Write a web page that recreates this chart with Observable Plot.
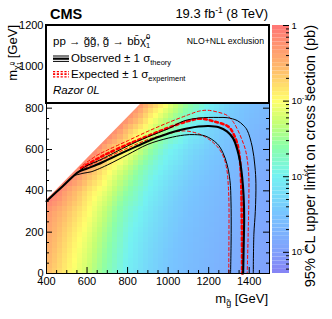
<!DOCTYPE html>
<html><head><meta charset="utf-8">
<script src="https://cdn.jsdelivr.net/npm/d3@7"></script>
<script src="https://cdn.jsdelivr.net/npm/@observablehq/plot@0.6"></script>
<style>
body{margin:0;background:#fff;}
#wrap{position:relative;width:332px;height:319px;overflow:hidden;font-family:"Liberation Sans",Arial,sans-serif;}
#wrap svg{position:absolute;top:0;}
</style></head><body><div id="wrap"></div>
<script>
// ---- heat map: log10(95% CL upper limit on cross section [pb]) ----
const mgGrid = [400, 500, 600, 700, 800, 900, 1000, 1100, 1200, 1300, 1400, 1500];
const mchiGrid = [0, 100, 200, 300, 400, 500, 600, 700, 800, 900];
const log10Xsec = [
  [-0.60, -0.92, -1.25, -1.65, -2.05, -2.30, -2.48, -2.60, -2.70, -2.80, -2.90, -2.98],
  [-0.50, -0.85, -1.18, -1.58, -2.00, -2.26, -2.45, -2.58, -2.68, -2.78, -2.88, -2.96],
  [-0.40, -0.75, -1.08, -1.48, -1.93, -2.20, -2.40, -2.55, -2.65, -2.75, -2.85, -2.93],
  [-0.28, -0.62, -0.95, -1.35, -1.82, -2.12, -2.35, -2.50, -2.62, -2.72, -2.82, -2.90],
  [null, -0.40, -0.80, -1.15, -1.60, -2.00, -2.26, -2.45, -2.58, -2.68, -2.78, -2.88],
  [null, null, -0.48, -0.92, -1.35, -1.80, -2.12, -2.35, -2.50, -2.62, -2.74, -2.84],
  [null, null, null, -0.55, -0.98, -1.48, -1.95, -2.22, -2.42, -2.56, -2.68, -2.78],
  [null, null, null, null, -0.60, -1.08, -1.55, -2.00, -2.30, -2.48, -2.62, -2.72],
  [null, null, null, null, null, -0.66, -1.15, -1.62, -2.05, -2.38, -2.55, -2.66],
  [null, null, null, null, null, null, -0.90, -1.35, -1.80, -2.20, -2.45, -2.60]
];
// samples along the kinematic edge
const diagMg = [400, 450, 500, 550, 600, 650, 700, 750, 800, 850, 900, 950, 1000];
const diagMchi = [355, 405, 455, 505, 555, 605, 655, 705, 755, 805, 855, 905, 955];
const diagLog10Xsec = [-0.08, -0.10, -0.12, -0.14, -0.16, -0.18, -0.20, -0.22, -0.25, -0.28, -0.32, -0.36, -0.40];
// kinematic boundary (white region above)
const kinMg = [400, 1300];
const kinMchi = [355, 1255];

// ---- exclusion contours ----
const obsMg   = [400, 480, 560, 600, 650, 700, 750, 800, 850, 900, 950, 1000, 1050, 1100, 1150, 1200, 1250, 1290, 1320, 1341, 1355, 1365, 1372, 1375, 1373, 1370];
const obsMchi = [350, 422, 493, 508, 527, 550, 573, 596, 618, 640, 660, 678, 692, 703, 711, 714, 708, 688, 655, 600, 540, 467, 380, 274, 150, 0];
const obsUpMg   = [560, 600, 650, 700, 800, 900, 1000, 1077, 1150, 1200, 1250, 1291, 1341, 1370, 1390, 1415, 1428, 1433, 1430, 1423, 1420];
const obsUpMchi = [495, 522, 543, 567, 617, 661, 700, 738, 752, 755, 755, 754, 740, 718, 693, 612, 520, 435, 300, 190, 0];
const obsDnMg   = [540, 580, 620, 650, 700, 800, 900, 1000, 1080, 1130, 1184, 1242, 1270, 1290, 1305, 1310, 1311, 1308];
const obsDnMchi = [475, 485, 492, 503, 525, 575, 625, 655, 670, 672, 665, 628, 585, 530, 450, 350, 193, 0];
const expMg   = [570, 650, 700, 800, 900, 1000, 1100, 1160, 1230, 1299, 1325, 1341, 1352, 1357, 1361, 1362, 1364, 1365];
const expMchi = [510, 555, 580, 625, 665, 705, 738, 749, 735, 709, 670, 628, 570, 515, 420, 354, 200, 0];
const expUpMg   = [580, 650, 700, 800, 900, 1000, 1100, 1150, 1193, 1240, 1291, 1320, 1344, 1365, 1382, 1393, 1398, 1398, 1395, 1390];
const expUpMchi = [525, 572, 597, 642, 688, 730, 768, 785, 790, 782, 765, 735, 693, 645, 596, 530, 467, 354, 200, 0];
const expDnMg   = [565, 650, 700, 800, 900, 1000, 1077, 1150, 1209, 1250, 1275, 1290, 1297, 1300, 1300, 1299];
const expDnMchi = [497, 540, 562, 607, 648, 676, 690, 676, 644, 605, 560, 500, 420, 340, 200, 0];

// ---- axes ----
const xTicks = [400, 600, 800, 1000, 1200, 1400];
const yTicks = [0, 200, 400, 600, 800, 1000, 1200];
const zTicks = [1, 0.1, 0.01, 0.001];
const zTickExp = ["", "-1", "-2", "-3"];

// ---- palette (log10 stops) ----
const paletteStops = [-3.28, -3.0, -2.5, -2.0, -1.6, -1.3, -1.0, -0.6, -0.3, 0];
const paletteColors = ["#8682f4", "#80a0fc", "#78c4ff", "#74f2f2", "#8cffa8", "#c4ff74", "#ffff6c", "#ffbe6c", "#ff9870", "#ff7676"];
const colorCfg = {type: "linear", domain: paletteStops, range: paletteColors, interpolate: "rgb"};

const samples = [];
mchiGrid.forEach((mchi, i) => mgGrid.forEach((mg, j) => {
  const v = log10Xsec[i][j];
  if (v != null) samples.push({mg, mchi, v});
}));
diagMg.forEach((mg, i) => samples.push({mg, mchi: diagMchi[i], v: diagLog10Xsec[i]}));
const kin = kinMg.map((mg, i) => ({mg, mchi: kinMchi[i]}));
const curve = (X, Y) => X.map((mg, i) => ({mg, mchi: Y[i]}));

const FONT = "Liberation Sans, Arial, Helvetica, sans-serif";
const W = 223, H = 248;
const xMinor = d3.range(400, 1501, 50).filter(v => v % 200 !== 0);
const yMinor = d3.range(0, 1201, 50).filter(v => v % 200 !== 0);

const main = Plot.plot({
  width: 270, height: 319,
  marginLeft: 46, marginRight: 1, marginTop: 25, marginBottom: 46,
  style: {fontFamily: FONT, background: "transparent", overflow: "visible"},
  x: {domain: [400, 1500], axis: null},
  y: {domain: [0, 1200], axis: null},
  color: colorCfg,
  marks: [
    Plot.raster(samples, {x: "mg", y: "mchi", fill: "v", interpolate: "barycentric",
      x1: 400, x2: 1500, y1: 0, y2: 1200, width: 44, height: 48, imageRendering: "pixelated"}),
    Plot.areaY(kin, {x: "mg", y1: "mchi", y2: 1200, fill: "white"}),
    Plot.line(curve(expUpMg, expUpMchi), {x: "mg", y: "mchi", stroke: "#ff0000", strokeWidth: 1, strokeDasharray: "3,2.5", curve: "catmull-rom"}),
    Plot.line(curve(expDnMg, expDnMchi), {x: "mg", y: "mchi", stroke: "#ff0000", strokeWidth: 1, strokeDasharray: "3,2.5", curve: "catmull-rom"}),
    Plot.line(curve(expMg, expMchi), {x: "mg", y: "mchi", stroke: "#ff0000", strokeWidth: 2.6, strokeDasharray: "2.8,3", curve: "catmull-rom"}),
    Plot.line(curve(obsUpMg, obsUpMchi), {x: "mg", y: "mchi", stroke: "#000", strokeWidth: 1, curve: "catmull-rom"}),
    Plot.line(curve(obsDnMg, obsDnMchi), {x: "mg", y: "mchi", stroke: "#000", strokeWidth: 1, curve: "catmull-rom"}),
    Plot.line(curve(obsMg, obsMchi), {x: "mg", y: "mchi", stroke: "#000", strokeWidth: 2.1, curve: "catmull-rom"}),
    Plot.tickX(xMinor, {insetTop: H - 3, stroke: "#000"}),
    Plot.tickX(xTicks, {insetTop: H - 6, stroke: "#000"}),
    Plot.tickY(yMinor, {insetRight: W - 3, stroke: "#000"}),
    Plot.tickY(yTicks, {insetRight: W - 6, stroke: "#000"}),
    Plot.tickY(yMinor, {insetLeft: W - 3, stroke: "#000"}),
    Plot.tickY(yTicks, {insetLeft: W - 6, stroke: "#000"}),
    Plot.axisX({ticks: xTicks, tickSize: 0, tickPadding: 4, fontSize: 11, tickFormat: d => String(d), label: null}),
    Plot.axisY({ticks: yTicks, tickSize: 0, tickPadding: 3, fontSize: 11, tickFormat: d => String(d), label: null}),
    Plot.frame({stroke: "#000", strokeWidth: 1})
  ]
});
main.style.left = "0px";
document.getElementById("wrap").appendChild(main);

// ---- colour bar ----
const nBands = 60;
const bands = d3.range(nBands).map(i => {
  const lo = -3.28 + 3.28 * i / nBands, hi = -3.28 + 3.28 * (i + 1) / nBands;
  return {lo: 10 ** lo, hi: 10 ** hi, mid: (lo + hi) / 2};
});
const zMinor = [];
[0.001, 0.01, 0.1].forEach(d => [2, 3, 4, 5, 6, 7, 8, 9].forEach(k => zMinor.push(d * k)));
zMinor.push(0.0006, 0.0007, 0.0008, 0.0009);
const CBW = 17;
const cbar = Plot.plot({
  width: 62, height: 319,
  marginLeft: 2, marginRight: 43, marginTop: 25, marginBottom: 46,
  style: {fontFamily: FONT, background: "transparent", overflow: "visible"},
  x: {domain: [0, 1], axis: null},
  y: {type: "log", domain: [10 ** -3.28, 1], axis: null},
  color: colorCfg,
  marks: [
    Plot.rect(bands, {x1: 0, x2: 1, y1: "lo", y2: "hi", fill: "mid"}),
    Plot.tickY(zMinor, {insetLeft: CBW - 3, stroke: "#000"}),
    Plot.tickY(zTicks, {insetLeft: CBW - 6, stroke: "#000"})
  ]
});
cbar.style.left = "270px";
document.getElementById("wrap").appendChild(cbar);

// colour bar labels positioned through the colour bar's y scale
const zy = cbar.scale("y");
const csvg = d3.select(cbar);
zTicks.forEach((v, i) => {
  const t = csvg.append("text").attr("x", 21.5).attr("y", zy.apply(v) + 3.5)
    .attr("text-anchor", "start")
    .attr("font-size", 9.5).attr("font-family", FONT).attr("fill", "#000");
  if (zTickExp[i] === "") { t.text("1"); }
  else {
    t.append("tspan").text("10");
    t.append("tspan").attr("font-size", 6.5).attr("dy", -4).text(zTickExp[i]);
  }
});
csvg.append("text").attr("transform", "translate(45,25) rotate(-90)")
  .attr("text-anchor", "end").attr("font-size", 14.6).attr("font-family", FONT)
  .text("95% CL upper limit on cross section (pb)");

// ---- titles and legend ----
const svg = d3.select(main);
svg.append("text").attr("x", 50).attr("y", 18.5).attr("text-anchor", "start")
  .attr("font-size", 14.5).attr("font-weight", "bold")
  .attr("font-family", FONT).text("CMS");
const lumi = svg.append("text").attr("x", 268).attr("y", 18).attr("text-anchor", "end")
  .attr("font-size", 13).attr("font-family", FONT);
lumi.append("tspan").text("19.3 fb");
lumi.append("tspan").attr("font-size", 8.5).attr("dy", -5).text("-1");
lumi.append("tspan").attr("dy", 5).text(" (8 TeV)");

const xt = svg.append("text").attr("x", 268).attr("y", 303).attr("text-anchor", "end")
  .attr("font-size", 13).attr("font-family", FONT);
xt.append("tspan").text("m");
xt.append("tspan").attr("font-size", 9).attr("dy", 3).text("g\u0303");
xt.append("tspan").attr("dy", -3).text(" [GeV]");

const yt = svg.append("text").attr("transform", "translate(17,25) rotate(-90)").attr("text-anchor", "end")
  .attr("font-size", 13).attr("font-family", FONT);
yt.append("tspan").text("m");
yt.append("tspan").attr("font-size", 9).attr("dy", 3).text("\u03c7\u0303");
yt.append("tspan").attr("font-size", 6).attr("dy", -6).text("0");
yt.append("tspan").attr("font-size", 6).attr("dx", -3.4).attr("dy", 7).text("1");
yt.append("tspan").attr("dy", -4).text(" [GeV]");

// legend box
const lg = svg.append("g").attr("font-family", FONT).attr("text-anchor", "start");
lg.append("rect").attr("x", 46).attr("y", 25).attr("width", 223).attr("height", 78)
  .attr("fill", "#fff").attr("stroke", "#000").attr("stroke-width", 2);
const l1 = lg.append("text").attr("x", 53).attr("y", 45).attr("font-size", 11.5);
l1.append("tspan").text("pp \u2192 g\u0303g\u0303, g\u0303 \u2192 bb\u0304\u03c7\u0303");
l1.append("tspan").attr("font-size", 7.5).attr("dy", -6).text("0");
l1.append("tspan").attr("font-size", 7.5).attr("dx", -4.2).attr("dy", 9).text("1");
lg.append("text").attr("x", 264).attr("y", 44).attr("text-anchor", "end").attr("font-size", 8.7)
  .text("NLO+NLL exclusion");
[[56, 1], [58.7, 2.2], [61.4, 1]].forEach(([y, w]) =>
  lg.append("line").attr("x1", 53).attr("x2", 69).attr("y1", y).attr("y2", y)
    .attr("stroke", "#000").attr("stroke-width", w));
[[71.6, 1.2], [74.2, 1.8], [76.8, 1.2]].forEach(([y, w]) =>
  lg.append("line").attr("x1", 53).attr("x2", 69).attr("y1", y).attr("y2", y)
    .attr("stroke", "#ff0000").attr("stroke-width", w).attr("stroke-dasharray", "2.2,1.6"));
const l2 = lg.append("text").attr("x", 71).attr("y", 62).attr("font-size", 11.5);
l2.append("tspan").text("Observed \u00b1 1 \u03c3");
l2.append("tspan").attr("font-size", 7.5).attr("dy", 3).text("theory");
const l3 = lg.append("text").attr("x", 71).attr("y", 78).attr("font-size", 11.5);
l3.append("tspan").text("Expected \u00b1 1 \u03c3");
l3.append("tspan").attr("font-size", 7.5).attr("dy", 3).text("experiment");
lg.append("text").attr("x", 53).attr("y", 94).attr("font-size", 11.5).attr("font-style", "italic")
  .text("Razor 0L");
</script></body></html>
